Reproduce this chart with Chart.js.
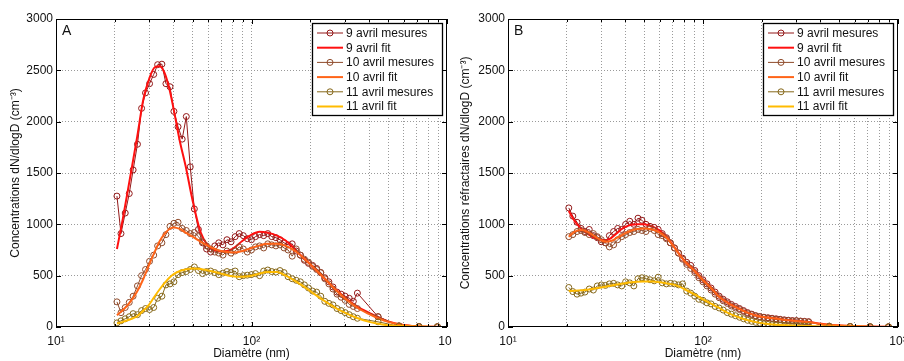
<!DOCTYPE html>
<html>
<head>
<meta charset="utf-8">
<script src="https://cdn.jsdelivr.net/npm/chart.js@4.4.0/dist/chart.umd.min.js"></script>
<style>
  body { margin: 0; background: #fff; }
  #wrap { position: relative; width: 904px; height: 361px; }
  canvas { position: absolute; top: 0; }
  #chartA { left: 0; }
  #chartB { left: 452px; }
</style>
</head>
<body>
<div id="wrap">
  <canvas id="chartA" width="452" height="361"></canvas>
  <canvas id="chartB" width="452" height="361"></canvas>
</div>
<script>
/*******************************
* DATA
********************************/

// measured diameters (nm): SMPS bins then the 4 larger channels
var diameters = [20.5, 21.5, 22.6, 23.7, 24.8, 26.1, 27.4, 28.7, 30.1, 31.6,
  33.1, 34.8, 36.5, 38.3, 40.1, 42.1, 44.2, 46.4, 48.6, 51.0,
  53.5, 56.2, 58.9, 61.8, 64.9, 68.0, 71.4, 74.9, 78.6, 82.5,
  86.5, 90.8, 95.2, 99.9, 104.8, 110.0, 115.4, 121.1, 127.0, 133.3,
  139.8, 146.7, 153.9, 161.5, 169.4, 177.8, 186.5, 195.7, 205.3, 215.4,
  226.0, 237.1, 248.8, 261.0, 273.8, 287.3, 301.4, 316.2, 331.8, 348.1,
  444, 568, 719, 893];

// diameters where the fitted curves are given
var fitDiameters = [20.5, 22, 24, 26, 28, 30, 32, 34, 36, 38, 40, 43, 46, 50, 55, 60, 65, 70, 75, 80,
  90, 100, 110, 120, 135, 150, 170, 190, 210, 240, 270, 300, 350, 400, 450, 500, 600, 700, 850, 1000];

var seriesLabels = ['9 avril mesures', '9 avril fit', '10 avril mesures', '10 avril fit', '11 avril mesures', '11 avril fit'];

var xTickLabels = { 10: '10\u00b9', 100: '10\u00b2', 1000: '10\u00b3' };
var yTicks = [0, 500, 1000, 1500, 2000, 2500, 3000];

// A : total concentrations
var a9Mes = [1275, 910, 1110, 1300, 1530, 1780, 2130, 2280, 2370, 2460,
  2555, 2560, 2370, 2340, 2100, 1950, 1830, 2050, 1560, 1150,
  950, 820, 760, 730, 790, 820, 800, 850, 830, 880,
  910, 890, 860, 850, 880, 900, 890, 910, 880, 870,
  850, 820, 800, 810, 740, 700, 650, 620, 600, 570,
  530, 480, 440, 390, 340, 320, 300, 280, 250, 330,
  100, 10, 5, 3];
var a9Fit = [760, 1060, 1470, 1850, 2220, 2420, 2530, 2540, 2470, 2320,
  2120, 1810, 1570, 1230, 920, 790, 745, 735, 740, 760,
  840, 900, 928, 920, 890, 840, 740, 650, 570, 460,
  365, 290, 195, 138, 90, 55, 20, 8, 2, 0];
var a10Mes = [245, 140, 190, 240, 300, 400, 500, 560, 640, 700,
  790, 820, 900, 980, 1010, 1020, 960, 940, 910, 920,
  880, 830, 790, 760, 730, 720, 700, 740, 720, 740,
  780, 760, 730, 750, 780, 790, 770, 810, 800, 790,
  800, 770, 750, 690, 760, 700, 660, 630, 590, 560,
  530, 470, 420, 370, 320, 290, 260, 220, 200, 180,
  100, 12, 4, 2];
var a10Fit = [115, 165, 245, 345, 470, 610, 735, 840, 910, 955,
  970, 955, 920, 880, 830, 790, 760, 740, 730, 725,
  740, 770, 795, 810, 810, 790, 730, 650, 570, 460,
  360, 280, 185, 125, 80, 50, 18, 7, 2, 0];
var a11Mes = [40, 60, 80, 100, 130, 120, 160, 180, 170, 190,
  280, 300, 410, 420, 440, 510, 530, 540, 560, 585,
  550, 520, 540, 545, 530, 510, 525, 540, 530, 545,
  490, 500, 505, 510, 520, 500, 545, 555, 540, 535,
  550, 530, 490, 470, 455, 440, 410, 380, 350, 340,
  300, 250, 230, 215, 180, 160, 140, 120, 100, 85,
  50, 8, 3, 2];
var a11Fit = [35, 50, 75, 105, 160, 220, 300, 370, 430, 480,
  515, 545, 560, 570, 565, 550, 535, 520, 505, 495,
  490, 500, 520, 535, 535, 500, 440, 380, 320, 245,
  185, 140, 85, 50, 30, 18, 8, 3, 1, 0];

// B : refractory concentrations
var b9Mes = [1160, 1080, 1020, 960, 930, 950, 890, 870, 830, 820,
  890, 930, 960, 950, 1000, 1030, 1000, 1060, 1040, 1000,
  980, 970, 950, 910, 870, 820, 770, 720, 670, 630,
  600, 550, 500, 460, 420, 380, 340, 300, 270, 245,
  220, 200, 180, 160, 140, 125, 110, 100, 95, 90,
  85, 80, 75, 70, 66, 63, 62, 58, 55, 52,
  8, 5, 3, 2];
var b9Fit = [1130, 1030, 950, 900, 865, 848, 848, 870, 910, 950,
  975, 995, 1002, 1000, 980, 940, 880, 800, 720, 650,
  555, 460, 385, 305, 235, 190, 140, 110, 95, 82,
  68, 60, 48, 32, 20, 14, 8, 4, 2, 0];
var b10Mes = [880, 900, 930, 940, 920, 900, 910, 880, 850, 820,
  780, 800, 850, 880, 900, 920, 930, 950, 940, 930,
  960, 940, 900, 890, 860, 820, 770, 720, 660, 610,
  570, 530, 480, 440, 400, 360, 320, 285, 255, 230,
  205, 185, 170, 150, 130, 120, 108, 100, 92, 86,
  80, 74, 70, 64, 62, 58, 60, 54, 52, 48,
  8, 5, 3, 2];
var b10Fit = [880, 930, 945, 920, 880, 845, 830, 840, 865, 890,
  915, 940, 955, 960, 950, 920, 870, 795, 715, 645,
  550, 455, 380, 300, 230, 185, 138, 108, 93, 80,
  67, 58, 46, 30, 20, 14, 8, 4, 2, 0];
var b11Mes = [385, 345, 320, 330, 340, 370, 360, 400, 410, 405,
  420, 425, 410, 400, 440, 430, 400, 470, 480, 470,
  460, 450, 485, 430, 420, 425, 420, 410, 420, 350,
  330, 300, 270, 260, 235, 225, 200, 185, 165, 140,
  125, 110, 95, 80, 65, 55, 45, 38, 30, 25,
  22, 20, 18, 15, 14, 12, 12, 10, 10, 10,
  5, 4, 2, 1];
var b11Fit = [350, 352, 358, 366, 375, 385, 395, 405, 413, 420,
  427, 435, 440, 443, 442, 435, 425, 415, 395, 370,
  320, 270, 228, 190, 135, 100, 65, 45, 32, 22,
  16, 12, 9, 6, 4, 3, 2, 1, 0, 0];

var colors = ['#931818', '#ff1010', '#8f4a2a', '#ff6418', '#86681a', '#ffbb00'];

(function(){
  /*******************************
  * LOAD
  ********************************/
  window.addEventListener('load', function() {
    app.init();
  });

  var FONT = 'Arial, "Liberation Sans", Helvetica, sans-serif';

  var app = {

    init: function() {
      Chart.defaults.font.family = FONT;
      Chart.defaults.font.size = 12;
      Chart.defaults.color = '#111';

      app.draw('chartA', 'A', 'Concentrations dN/dlogD (cm\u207b\u00b3)', 8,
        [a9Mes, a9Fit, a10Mes, a10Fit, a11Mes, a11Fit], 5);
      app.draw('chartB', 'B', 'Concentrations r\u00e9fractaires dN/dlogD (cm\u207b\u00b3)', 6,
        [b9Mes, b9Fit, b10Mes, b10Fit, b11Mes, b11Fit], 6);
    },

    /*******************************
    * zip x and y into points
    ********************************/
    points: function(xs, ys) {
      return xs.map(function(x, i) { return { x: x, y: ys[i] }; });
    },

    datasets: function(values) {
      return values.map(function(v, i) {
        var isFit = (i % 2 === 1);
        if (isFit) {
          return {
            label: seriesLabels[i],
            data: app.points(fitDiameters, v),
            borderColor: colors[i],
            borderWidth: 2,
            pointRadius: 0,
            cubicInterpolationMode: 'monotone',
            order: 6 - i
          };
        }
        return {
          label: seriesLabels[i],
          data: app.points(diameters, v),
          borderColor: colors[i],
          backgroundColor: 'rgba(0,0,0,0)',
          borderWidth: 1,
          pointRadius: 3,
          pointBorderWidth: 1,
          pointBorderColor: colors[i],
          pointBackgroundColor: 'rgba(0,0,0,0)',
          tension: 0,
          order: 6 - i
        };
      });
    },

    /*******************************
    * frame, inner ticks, letter, legend
    ********************************/
    frame: {
      id: 'frame',
      afterDraw: function(chart, args, opts) {
        var ctx = chart.ctx, a = chart.chartArea;
        var sx = chart.scales.x, sy = chart.scales.y;
        ctx.save();
        ctx.strokeStyle = '#000';
        ctx.lineWidth = 1;
        ctx.beginPath();
        sx.ticks.forEach(function(t) {
          var px = Math.round(sx.getPixelForValue(t.value)) + 0.5;
          var len = xTickLabels[t.value] ? 5 : 3;
          ctx.moveTo(px, a.bottom); ctx.lineTo(px, a.bottom - len);
          ctx.moveTo(px, a.top); ctx.lineTo(px, a.top + len);
        });
        sy.ticks.forEach(function(t) {
          var py = Math.round(sy.getPixelForValue(t.value)) + 0.5;
          ctx.moveTo(a.left, py); ctx.lineTo(a.left + 5, py);
          ctx.moveTo(a.right, py); ctx.lineTo(a.right - 5, py);
        });
        ctx.stroke();
        ctx.strokeRect(Math.round(a.left) + 0.5, Math.round(a.top) + 0.5,
          Math.round(a.right - a.left) - 1, Math.round(a.bottom - a.top) - 1);

        // panel letter
        ctx.fillStyle = '#111';
        ctx.font = '14px ' + FONT;
        ctx.textBaseline = 'alphabetic';
        ctx.textAlign = 'left';
        ctx.fillText(opts.letter, a.left + 6, a.top + 15.5);

        // legend
        ctx.font = '12px ' + FONT;
        var ds = chart.data.datasets;
        var tw = 0;
        ds.forEach(function(d) { tw = Math.max(tw, ctx.measureText(d.label).width); });
        var lw = Math.round(34 + tw + 8), lh = 92;
        var lx = Math.round(a.right - 5 - lw), ly = Math.round(a.top + 4);
        ctx.fillStyle = '#fff';
        ctx.fillRect(lx, ly, lw, lh);
        ctx.strokeStyle = '#000';
        ctx.lineWidth = 1.3;
        ctx.strokeRect(lx + 0.5, ly + 0.5, lw, lh);
        ds.forEach(function(d, i) {
          var cy = ly + 10 + i * 14.7;
          ctx.strokeStyle = d.borderColor;
          ctx.lineWidth = d.borderWidth;
          ctx.beginPath();
          ctx.moveTo(lx + 5, cy); ctx.lineTo(lx + 31, cy);
          ctx.stroke();
          if (d.pointRadius) {
            ctx.lineWidth = 1;
            ctx.beginPath();
            ctx.arc(lx + 18, cy, d.pointRadius, 0, Math.PI * 2);
            ctx.stroke();
          }
          ctx.fillStyle = '#111';
          ctx.textBaseline = 'middle';
          ctx.fillText(d.label, lx + 34, cy + 0.5);
        });
        ctx.restore();
      }
    },

    draw: function(id, letter, yTitle, yTitlePad, values, rightPad) {
      var gridColor = function(edge) {
        return function(c) {
          return (c.tick && edge.indexOf(c.tick.value) >= 0) ? 'rgba(0,0,0,0)' : '#9a9a9a';
        };
      };

      new Chart(document.getElementById(id), {
        type: 'line',
        data: { datasets: app.datasets(values) },
        options: {
          responsive: false,
          animation: false,
          layout: { padding: { left: 0, right: rightPad, top: 19, bottom: 0 } },
          plugins: {
            legend: { display: false },
            tooltip: { enabled: false },
            frame: { letter: letter }
          },
          scales: {
            x: {
              type: 'logarithmic',
              min: 10,
              max: 1000,
              afterBuildTicks: function(s) {
                var t = [];
                [10, 100].forEach(function(d) {
                  for (var k = 1; k < 10; k++) t.push({ value: d * k });
                });
                t.push({ value: 1000 });
                s.ticks = t;
              },
              afterFit: function(s) { s.height = 34; s.paddingLeft = 0; s.paddingRight = 0; },
              ticks: {
                autoSkip: false,
                maxRotation: 0,
                padding: 7,
                callback: function(v) { return xTickLabels[v] || ''; }
              },
              grid: { color: gridColor([10, 1000]), drawTicks: false, lineWidth: 1 },
              border: { display: false, dash: [1, 2] },
              title: { display: true, text: 'Diam\u00e8tre (nm)', padding: { top: 0, bottom: 0 } }
            },
            y: {
              min: 0,
              max: 3000,
              afterBuildTicks: function(s) {
                s.ticks = yTicks.map(function(v) { return { value: v }; });
              },
              afterFit: function(s) { s.width = 56; s.paddingTop = 0; s.paddingBottom = 0; },
              ticks: {
                padding: 3,
                callback: function(v) { return String(v); }
              },
              grid: { color: gridColor([0, 3000]), drawTicks: false, lineWidth: 1 },
              border: { display: false, dash: [1, 2] },
              title: { display: true, text: yTitle, padding: { top: yTitlePad, bottom: 0 } }
            }
          }
        },
        plugins: [app.frame]
      });
    }
  };
})();
</script>
</body>
</html>
